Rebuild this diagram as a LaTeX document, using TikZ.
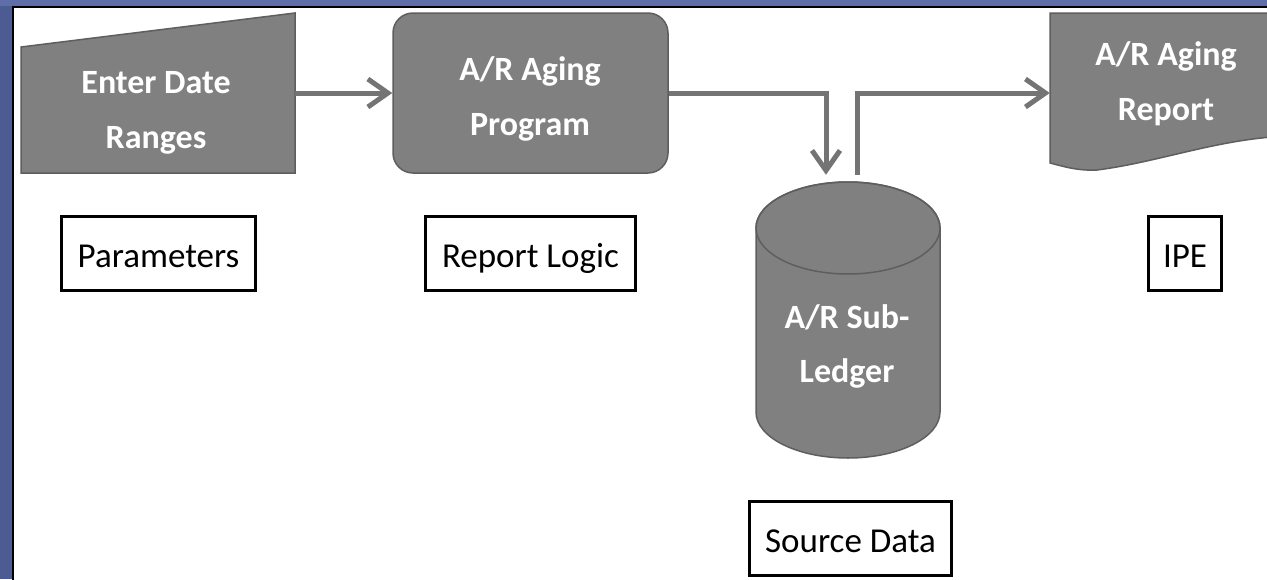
\documentclass[tikz,border=0pt]{standalone}
\usepackage{fontspec}
\setmainfont{Carlito}
\usetikzlibrary{arrows.meta}
\definecolor{frameblue}{HTML}{4C5B91}
\definecolor{frametop}{HTML}{5F6EA8}
\definecolor{shapegray}{HTML}{808080}
\definecolor{edgegray}{HTML}{5E5E5E}
\definecolor{linegray}{HTML}{747474}
\tikzset{
  shapefill/.style={fill=shapegray, draw=edgegray, line width=1.5pt},
  wtext/.style={text=white, font=\fontsize{34}{40}\selectfont\bfseries, anchor=base, inner sep=0pt},
  lbl/.style={draw=black, line width=3.5pt, font=\fontsize{35}{40}\selectfont,
              text height=27pt, text depth=0pt, inner sep=0pt, minimum height=74pt},
  conn/.style={draw=linegray, line width=5pt, -{Straight Barb[length=20pt,width=28pt]}},
  ghost/.style={inner sep=0pt, draw=none}
}
\begin{document}
\begin{tikzpicture}[x=1pt,y=-1pt]
\useasboundingbox (0,0) rectangle (1267,579);
\clip (0,0) rectangle (1267,579);
% frame
\fill[frameblue] (0,0) rectangle (1267,579);
\fill[frametop] (0,0) rectangle (1267,6);
\fill[white] (13,7) rectangle (1290,600);
\draw[black, line width=1.5pt] (13,600) -- (13,7) -- (1290,7);

% manual input
\path[shapefill] (21,47) -- (295,13) -- (295,173) -- (21,173) -- cycle;
\node[ghost, minimum width=274pt, minimum height=160pt] (inp) at (158,93) {};
\node[wtext] (t1) at (156,93) {Enter Date};
\node[wtext] (t2) at (156,148) {Ranges};

% program
\node[shapefill, rounded corners=20pt, minimum width=275pt, minimum height=160pt, inner sep=0pt] (prog) at (530.5,93) {};
\node[wtext] (t3) at (530,80) {A/R Aging};
\node[wtext] (t4) at (530,135) {Program};

% database cylinder
\path[shapefill] (756,228) -- (756,412)
  arc[start angle=180, end angle=360, x radius=92pt, y radius=46pt]
  -- (940,228)
  arc[start angle=0, end angle=180, x radius=92pt, y radius=46pt] -- cycle;
\draw[edgegray, line width=1.5pt] (848,228) ellipse[x radius=92pt, y radius=46pt];
\node[ghost, minimum width=184pt, minimum height=276pt] (db) at (848,320) {};
\node[wtext] (t5) at (847,328) {A/R Sub-};
\node[wtext] (t6) at (847,382) {Ledger};

% report document (cut at the right edge)
\path[shapefill] (1050,13) -- (1290,13) -- (1290,136)
  .. controls (1220,138) and (1160,162) .. (1097,170)
  .. controls (1077,171) and (1062,166) .. (1050,163) -- cycle;
\node[ghost, minimum width=240pt, minimum height=160pt] (rep) at (1170,93) {};
\node[wtext] (t7) at (1166,65) {A/R Aging};
\node[wtext] (t8) at (1166,120) {Report};

% labels
\node[lbl, minimum width=194pt] (par) at (158.5,253.5) {Parameters};
\node[lbl, minimum width=210pt] (logic) at (530.5,253.5) {Report Logic};
\node[lbl, minimum width=73pt] (ipe) at (1185,253.5) {IPE};
\node[lbl, minimum width=202pt] (src) at (850.5,538.5) {Source Data};

% connectors
\draw[conn] (inp.east) -- (prog.west);
\draw[conn] (prog.east) -| ([xshift=-22pt,yshift=7pt]db.north);
\draw[conn] ([xshift=9pt,yshift=7pt]db.north) |- (rep.west);
\end{tikzpicture}
\end{document}
